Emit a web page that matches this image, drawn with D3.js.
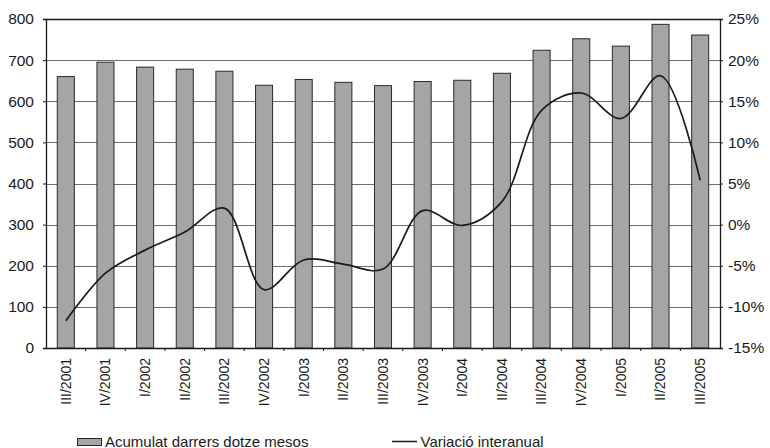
<!DOCTYPE html>
<html><head><meta charset="utf-8">
<script src="https://cdn.jsdelivr.net/npm/d3@7"></script>
<style>
html,body{margin:0;padding:0;background:#fff;}
svg{display:block;font-family:"Liberation Sans",Arial,Helvetica,sans-serif;}
</style></head>
<body>
<svg id="chart" width="770" height="448"></svg>
<script>
const categories = ["III/2001","IV/2001","I/2002","II/2002","III/2002","IV/2002","I/2003","II/2003","III/2003","IV/2003","I/2004","II/2004","III/2004","IV/2004","I/2005","II/2005","III/2005"];
const acumulat = [660,695,683,678,673,639,653,646,638,648,651,668,724,752,734,787,761];
const variacio = [-11.7,-5.9,-3.1,-0.9,2.0,-7.9,-4.3,-4.8,-5.4,1.7,-0.1,2.8,13.9,16.0,12.9,18.1,5.4];
const leftTicks = [0,100,200,300,400,500,600,700,800];
const rightTicks = [-15,-10,-5,0,5,10,15,20,25];
const seriesNames = ["Acumulat darrers dotze mesos","Variació interanual"];

const svg = d3.select("#chart");
const L = 46, R = 720, T = 19, B = 348;
const x = d3.scaleBand().domain(categories).range([L, R]).padding(0);
const yL = d3.scaleLinear().domain([0, 800]).range([B, T]);
const yR = d3.scaleLinear().domain([-15, 25]).range([B, T]);
const textCol = "#1a1a1a";

// gridlines
svg.append("g").selectAll("line").data(leftTicks.filter(d => d > 0 && d < 800)).join("line")
  .attr("x1", L).attr("x2", R)
  .attr("y1", d => Math.round(yL(d)) + 0.5).attr("y2", d => Math.round(yL(d)) + 0.5)
  .attr("stroke", "#6e6e6e").attr("stroke-width", 1.2);
// top border
svg.append("line").attr("x1", L).attr("x2", R).attr("y1", T + 0.5).attr("y2", T + 0.5)
  .attr("stroke", "#1a1a1a").attr("stroke-width", 1.3);

// bars
const bw = x.bandwidth() * 0.43;
svg.append("g").selectAll("rect").data(acumulat).join("rect")
  .attr("x", (d, i) => x(categories[i]) + x.bandwidth() / 2 - bw / 2)
  .attr("y", d => yL(d))
  .attr("width", bw)
  .attr("height", d => B - yL(d))
  .attr("fill", "#a5a5a8").attr("stroke", "#2a2a2a").attr("stroke-width", 1);

// line
const line = d3.line()
  .x((d, i) => x(categories[i]) + x.bandwidth() / 2)
  .y(d => yR(d))
  .curve(d3.curveCatmullRom.alpha(0.5));
svg.append("path").datum(variacio).attr("d", line)
  .attr("fill", "none").attr("stroke", "#1a1a1a").attr("stroke-width", 1.7);

// left axis
const axL = svg.append("g").attr("transform", `translate(${L},0)`)
  .call(d3.axisLeft(yL).tickValues(leftTicks).tickSize(3).tickPadding(9));
axL.select(".domain").attr("stroke", "#1a1a1a").attr("stroke-width", 1.3);
axL.selectAll(".tick line").attr("stroke", "#1a1a1a");
axL.selectAll("text").attr("font-size", "15.5px").attr("fill", textCol).attr("font-family", "Liberation Sans, Arial, sans-serif");

// right axis
const axR = svg.append("g").attr("transform", `translate(${R},0)`)
  .call(d3.axisRight(yR).tickValues(rightTicks).tickSize(3).tickPadding(5).tickFormat(d => d + "%"));
axR.select(".domain").attr("stroke", "#1a1a1a").attr("stroke-width", 1.3);
axR.selectAll(".tick line").attr("stroke", "#1a1a1a");
axR.selectAll("text").attr("font-size", "15.5px").attr("fill", textCol).attr("font-family", "Liberation Sans, Arial, sans-serif");

// bottom axis
const axB = svg.append("g").attr("transform", `translate(0,${B})`)
  .call(d3.axisBottom(x).tickSize(0).tickPadding(0));
axB.select(".domain").attr("stroke", "#1a1a1a").attr("stroke-width", 1.3);
axB.selectAll(".tick text")
  .attr("transform", "translate(0,10) rotate(-90)")
  .attr("text-anchor", "end").attr("dy", "0.35em").attr("x", 0).attr("y", 0)
  .attr("font-size", "14px").attr("fill", textCol).attr("font-family", "Liberation Sans, Arial, sans-serif");
// category separator ticks
svg.append("g").selectAll("line").data(categories.slice(1)).join("line")
  .attr("x1", d => x(d)).attr("x2", d => x(d))
  .attr("y1", B).attr("y2", B + 3)
  .attr("stroke", "#1a1a1a");

// legend
const lg = svg.append("g");
lg.append("rect").attr("x", 77.5).attr("y", 438.5).attr("width", 24).attr("height", 7)
  .attr("fill", "#a5a5a8").attr("stroke", "#2a2a2a").attr("stroke-width", 1);
lg.append("text").attr("x", 105).attr("y", 446.5).text(seriesNames[0])
  .attr("font-size", "15px").attr("fill", textCol);
lg.append("line").attr("x1", 392).attr("x2", 417).attr("y1", 441.5).attr("y2", 441.5)
  .attr("stroke", "#1a1a1a").attr("stroke-width", 1.5);
lg.append("text").attr("x", 420.5).attr("y", 446.5).text(seriesNames[1])
  .attr("font-size", "15px").attr("fill", textCol);
</script>
</body></html>
